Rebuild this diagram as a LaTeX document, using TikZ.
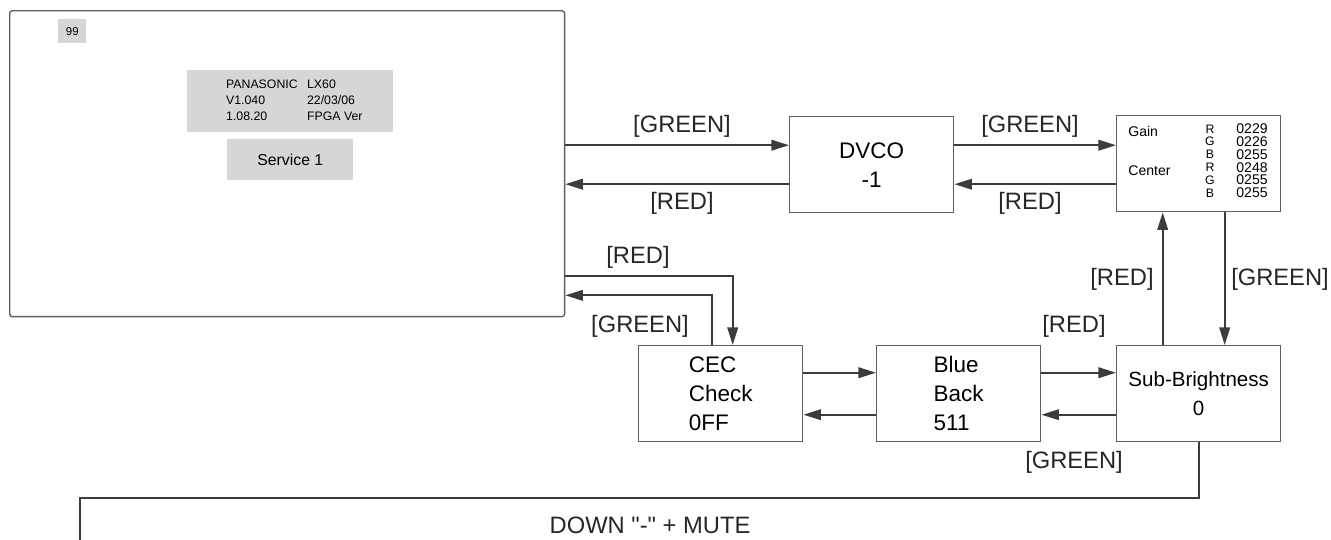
\documentclass[tikz,border=0pt]{standalone}
\usepackage{fontspec}
\setmainfont{Liberation Sans}[Ligatures=TeXOff]
\usetikzlibrary{positioning}
\usetikzlibrary{calc}
\usetikzlibrary{arrows.meta}
\definecolor{panelgray}{RGB}{214,214,214}
\definecolor{linegray}{RGB}{60,60,60}
\definecolor{boxgray}{RGB}{95,95,95}

\tikzset{
  menubox/.style={draw=boxgray, line width=0.8pt, minimum width=3.28cm,
    minimum height=1.92cm, anchor=north west, align=left, inner sep=1pt,
    font=\fontsize{12.8}{16.5}\selectfont},
  panel/.style={fill=panelgray, anchor=north west, inner sep=0pt},
  flow/.style={draw=linegray, line width=1.1pt,
    -{Triangle[length=10pt,width=6pt]}},
  wire/.style={draw=linegray, line width=1.1pt},
  lbl/.style={text=black!85, font=\fontsize{13.5}{16}\selectfont},
  smalltxt/.style={font=\fontsize{8}{9}\selectfont, inner sep=0pt},
}

\begin{document}
\begin{tikzpicture}[x=0.02cm, y=-0.02cm]
\useasboundingbox (0,0) rectangle (1331,539);

\def\lane{19.5}  % half distance between forward and return lines

%---------------------------------------
% Screen with the service menu
%---------------------------------------
\node[draw=boxgray, line width=0.8pt, rounded corners=1.5pt, anchor=north west,
      minimum width=11.1cm, minimum height=6.12cm] (screen) at (9,10) {};

\node[panel, minimum width=0.56cm, minimum height=0.48cm,
      font=\fontsize{6.5}{7}\selectfont] (page) at (58,19) {99};

\node[panel, minimum width=4.12cm, minimum height=1.24cm] (info) at (187,70) {};
\node[inner sep=0pt, font=\fontsize{7}{9}\selectfont] (infotxt) at ($(info.center)+(4,0)$) {%
  \begin{tabular}{@{}p{1.62cm}@{}l@{}}
    PANASONIC & LX60\\
    V1.040    & 22/03/06\\
    1.08.20   & FPGA Ver
  \end{tabular}};

\node[panel, minimum width=2.52cm, minimum height=0.82cm,
      font=\fontsize{9}{10}\selectfont] (service) at (227,139) {Service 1};

%---------------------------------------
% Menu boxes
%---------------------------------------
\node[menubox, align=center] (dvco) at (789,116) {DVCO\\-1};
\node[menubox] (gain) at (1116,115) {};
\node[menubox] (cec)  at (638,345) {CEC\\Check\\0FF};
\node[menubox] (blue) at (876,345) {Blue\\Back\\511};
\node[menubox, align=center, font=\fontsize{11.7}{17}\selectfont] (sub) at (1116,345) {Sub-Brightness\\0};

% Gain / Center values
\node[smalltxt, anchor=west] (gainlab) at (1128,131) {Gain};
\node[smalltxt, anchor=west] (centerlab) at (1128,171) {Center};
\foreach \c/\v [count=\i] in {R/0229,G/0226,B/0255,R/0248,G/0255,B/0255}{
  \node[smalltxt, font=\fontsize{7}{8}\selectfont] (ch\i) at (1210,116+12.8*\i) {\c};
  \node[smalltxt, anchor=east] (val\i) at (1268,116+12.8*\i) {\v};
}

%---------------------------------------
% Top row: screen - DVCO - Gain
%---------------------------------------
\coordinate (tU) at ($(dvco.west)+(0,-\lane)$);
\coordinate (tD) at ($(dvco.west)+(0,\lane)$);

\draw[flow] (screen.east |- tU) -- (tU);
\draw[flow] (tD) -- (screen.east |- tD);
\draw[flow] (dvco.east |- tU) -- (gain.west |- tU);
\draw[flow] (gain.west |- tD) -- (dvco.east |- tD);

\node[lbl] (l1) at (682,126) {[GREEN]};
\node[lbl] (l2) at (682,203) {[RED]};
\node[lbl] (l3) at (1030,126) {[GREEN]};
\node[lbl] (l4) at (1030,203) {[RED]};

%---------------------------------------
% Screen - CEC Check
%---------------------------------------
\coordinate (sR) at ($(screen.south east)+(0,-41)$);
\coordinate (sG) at ($(screen.south east)+(0,-22)$);
\coordinate (cIn) at ($(cec.north)+(12,0)$);
\coordinate (cOut) at ($(cec.north)+(-9,0)$);

\draw[flow] (sR) -| (cIn);
\draw[flow] (cOut) |- (sG);

\node[lbl] (l5) at (638,257) {[RED]};
\node[lbl] (l6) at (640,326) {[GREEN]};

%---------------------------------------
% Bottom row: CEC - Blue Back - Sub-Brightness
%---------------------------------------
\coordinate (bU) at ($(cec.east)+(0,-21)$);
\coordinate (bD) at ($(cec.east)+(0,21)$);

\draw[flow] (bU) -- (blue.west |- bU);
\draw[flow] (blue.west |- bD) -- (bD);
\draw[flow] (blue.east |- bU) -- (sub.west |- bU);
\draw[flow] (sub.west |- bD) -- (blue.east |- bD);

\node[lbl] (l7) at (1074,326) {[RED]};
\node[lbl] (l8) at (1074,462) {[GREEN]};

%---------------------------------------
% Sub-Brightness - Gain
%---------------------------------------
\coordinate (vU) at ($(sub.north)+(-36,0)$);
\coordinate (vD) at ($(sub.north)+(26,0)$);

\draw[flow] (vU) -- (gain.south -| vU);
\draw[flow] (gain.south -| vD) -- (vD);

\node[lbl] (l9) at (1122,279) {[RED]};
\node[lbl] (l10) at (1280,279) {[GREEN]};

%---------------------------------------
% Return path
%---------------------------------------
\coordinate (mute) at (80,545);
\draw[wire] (sub.south) -- ++(0,56) -| (mute);
\node[lbl] (l11) at (650,525) {DOWN "-" + MUTE};

\end{tikzpicture}
\end{document}
